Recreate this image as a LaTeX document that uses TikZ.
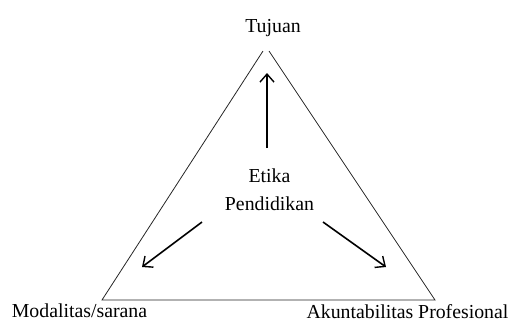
\documentclass[tikz,border=0pt]{standalone}
\usepackage{fontspec}
\setmainfont{Liberation Serif}
\usetikzlibrary{arrows.meta}
\begin{document}
\begin{tikzpicture}[x=1pt,y=-1pt,
  lbl/.style={font=\fontsize{19.8}{28}\selectfont, inner sep=0pt, anchor=base},
  edge/.style={line width=0.8pt, black!85},
  arr/.style={line width=1.6pt, -{Straight Barb[length=8pt,width=14pt,line width=1.4pt]}}]
\useasboundingbox (0,0) rectangle (509,322);
% labels
\node[lbl] (tuj) at (273,32.7) {Tujuan};
\node[lbl] (mod) at (79.5,317.5) {Modalitas/sarana};
\node[lbl] (aku) at (407.5,318) {Akuntabilitas Profesional};
\node[lbl, align=center, anchor=center] (etika) at (269.5,190) {Etika\\Pendidikan};
% triangle
\coordinate (tl) at (263,51);
\coordinate (tr) at (269,51);
\coordinate (bl) at (102,300);
\coordinate (br) at (435,300);
\draw[edge] (tl) -- (bl) -- (br) -- (tr);
% arrows
\coordinate (us) at (267,148);
\coordinate (ue) at (267,73);
\coordinate (ls) at (202,222);
\coordinate (le) at (142,267);
\coordinate (rs) at (323,222);
\coordinate (re) at (386,267);
\draw[arr] (us) -- (ue);
\draw[arr] (ls) -- (le);
\draw[arr] (rs) -- (re);
\end{tikzpicture}
\end{document}
